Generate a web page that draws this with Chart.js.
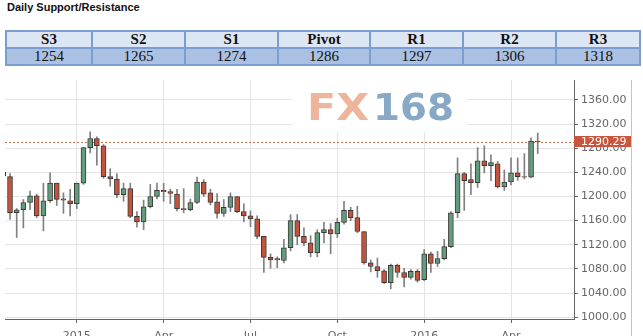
<!DOCTYPE html>
<html lang="en">
<head>
<meta charset="UTF-8">
<title>Daily Support/Resistance</title>
<script src="https://cdn.jsdelivr.net/npm/chart.js@4.4.0/dist/chart.umd.min.js"></script>
<style>
  html, body { margin: 0; padding: 0; background: #fff; }
  body { width: 643px; height: 336px; overflow: hidden; position: relative; }
  #title { position: absolute; left: 7px; top: 1px; font: bold 11px "Liberation Sans", Arial, sans-serif; color: #111; }
  table { position: absolute; left: 5px; top: 30px; width: 634px; border-collapse: collapse; table-layout: fixed; }
  th, td { border: 2px solid #7b9dd0; padding: 0; text-align: center; font-family: "Liberation Serif", "Times New Roman", serif; font-size: 15px; color: #111; }
  th { background: #dce6f4; height: 15px; line-height: 15px; font-weight: bold; }
  td { background: #aac1e3; height: 15px; line-height: 15px; }
  #wrap { position: absolute; left: 0; top: 70px; width: 643px; height: 274px; }
</style>
</head>
<body>
<div id="title">Daily Support/Resistance</div>
<table>
  <colgroup><col style="width:86px"><col style="width:93px"><col style="width:93px"><col style="width:92px"><col style="width:93px"><col style="width:93px"><col style="width:84px"></colgroup>
  <tr id="levelNames"></tr>
  <tr id="levelValues"></tr>
</table>
<div id="wrap"><canvas id="chart" width="643" height="274"></canvas></div>

<script>
// pivot table
const levelNames = ['S3', 'S2', 'S1', 'Pivot', 'R1', 'R2', 'R3'];
const levelValues = [1254, 1265, 1274, 1286, 1297, 1306, 1318];

// weekly candles (first one is cut by the left edge)
const opens  = [1240, 1233, 1173, 1178, 1190, 1201, 1168, 1193, 1222, 1196, 1193, 1188, 1222, 1281, 1296, 1284,
                1233, 1229, 1203, 1213, 1167, 1158, 1183, 1200, 1210, 1208, 1204, 1180, 1178, 1190, 1224, 1206,
                1191, 1172, 1182, 1200, 1175, 1168, 1163, 1134, 1099, 1097, 1094, 1115, 1160, 1134, 1123, 1107,
                1140, 1145, 1138, 1157, 1177, 1165, 1142, 1090, 1084, 1077, 1057, 1086, 1074, 1066, 1076, 1062,
                1105, 1089, 1097, 1117, 1173, 1238, 1228, 1223, 1259, 1251, 1254, 1216, 1224, 1239, 1233, 1232, 1292];
const closes = [1234, 1173, 1178, 1190, 1201, 1168, 1193, 1222, 1195, 1194, 1188, 1222, 1281, 1296, 1284, 1233,
                1229, 1203, 1213, 1167, 1158, 1183, 1200, 1210, 1208, 1205, 1180, 1178, 1190, 1224, 1204, 1190,
                1172, 1182, 1200, 1175, 1168, 1163, 1134, 1099, 1095, 1095, 1115, 1160, 1134, 1123, 1107, 1140,
                1145, 1138, 1157, 1177, 1165, 1142, 1090, 1084, 1077, 1057, 1086, 1074, 1066, 1076, 1061, 1105,
                1089, 1097, 1117, 1173, 1238, 1226, 1223, 1259, 1251, 1256, 1216, 1224, 1239, 1233, 1232, 1292, 1290.29];
const highs  = [1243, 1238, 1180, 1195, 1209, 1204, 1222, 1239, 1222, 1206, 1212, 1222, 1281, 1307, 1299, 1286,
                1246, 1238, 1222, 1222, 1175, 1194, 1220, 1222, 1222, 1212, 1212, 1213, 1196, 1232, 1228, 1212,
                1205, 1195, 1206, 1200, 1188, 1176, 1168, 1134, 1105, 1100, 1129, 1170, 1170, 1148, 1135, 1145,
                1157, 1155, 1164, 1192, 1182, 1184, 1142, 1095, 1098, 1079, 1088, 1088, 1081, 1079, 1079, 1112,
                1108, 1109, 1129, 1175, 1264, 1240, 1254, 1281, 1284, 1269, 1258, 1244, 1264, 1264, 1271, 1297, 1305];
const lows   = [1230, 1162, 1132, 1148, 1178, 1165, 1143, 1190, 1185, 1172, 1168, 1180, 1220, 1272, 1252, 1230,
                1217, 1198, 1192, 1165, 1149, 1145, 1181, 1196, 1192, 1188, 1176, 1173, 1176, 1188, 1200, 1186,
                1164, 1167, 1175, 1173, 1158, 1150, 1130, 1074, 1081, 1082, 1090, 1110, 1120, 1118, 1100, 1100,
                1123, 1105, 1132, 1154, 1160, 1140, 1088, 1075, 1066, 1056, 1047, 1066, 1050, 1063, 1058, 1060,
                1074, 1084, 1095, 1115, 1165, 1177, 1203, 1215, 1239, 1226, 1214, 1210, 1219, 1227, 1229, 1231, 1271];
const lastPrice = 1290.29;

// x axis: quarter marks (week index) and their labels, y axis ticks
const quarterWeeks = [10, 23, 36, 49, 62, 75];
const quarterLabels = ['2015', 'Apr', 'Jul', 'Oct', '2016', 'Apr'];
const priceTicks = [1000, 1040, 1080, 1120, 1160, 1200, 1240, 1280, 1320, 1360];

document.getElementById('levelNames').innerHTML = levelNames.map(n => '<th>' + n + '</th>').join('');
document.getElementById('levelValues').innerHTML = levelValues.map(v => '<td>' + v + '</td>').join('');

const green = '#629c7e';
const red = '#c4533d';

const bodies = opens.map((o, i) => ({ x: i - 1, y: [o, closes[i]] }));
const wicks = highs.map((h, i) => ({ x: i - 1, y: [lows[i], h] }));

const extras = {
    id: 'extras',
    beforeDatasetsDraw(chart) {
        const ctx = chart.ctx;
        const area = chart.chartArea;
        // white patch behind the watermark
        ctx.save();
        ctx.fillStyle = '#fff';
        ctx.fillRect(293, area.top, 174, 52);
        ctx.font = 'bold 37px "DejaVu Sans"';
        ctx.textBaseline = 'alphabetic';
        const drawFit = (txt, x, w, color) => {
            const m = ctx.measureText(txt).width;
            ctx.save();
            ctx.translate(x, 50);
            ctx.scale(w / m, 1);
            ctx.fillStyle = color;
            ctx.fillText(txt, 0, 0);
            ctx.restore();
        };
        drawFit('FX', 307, 62, '#efb49c');
        drawFit('168', 373, 81, '#88a9c6');
        // last price dotted line
        const y = chart.scales.y.getPixelForValue(lastPrice);
        ctx.strokeStyle = '#c8714f';
        ctx.lineWidth = 1;
        ctx.setLineDash([2, 2]);
        ctx.beginPath();
        ctx.moveTo(area.left, Math.round(y) + 0.5);
        ctx.lineTo(area.right, Math.round(y) + 0.5);
        ctx.stroke();
        ctx.restore();
    },
    afterDraw(chart) {
        const ctx = chart.ctx;
        const area = chart.chartArea;
        const y = chart.scales.y.getPixelForValue(lastPrice);
        ctx.save();
        // right border
        ctx.strokeStyle = '#c4c4c4';
        ctx.beginPath();
        ctx.moveTo(631.5, area.top);
        ctx.lineTo(631.5, chart.height);
        ctx.stroke();
        // price tag
        ctx.fillStyle = '#c9553f';
        ctx.fillRect(area.right, Math.round(y) - 6, 57, 11);
        ctx.fillStyle = '#fff';
        ctx.font = '11px "DejaVu Sans"';
        ctx.textBaseline = 'middle';
        ctx.fillText(lastPrice.toFixed(2), area.right + 7, Math.round(y));
        ctx.restore();
    }
};

new Chart(document.getElementById('chart').getContext('2d'), {
    type: 'bar',
    data: {
        datasets: [{
            data: bodies,
            backgroundColor: bodies.map(b => b.y[1] >= b.y[0] ? green : red),
            borderColor: '#3d3a36',
            borderWidth: 1,
            borderSkipped: false,
            barThickness: 5,
            grouped: false,
            order: 0
        }, {
            data: wicks,
            backgroundColor: '#808080',
            borderWidth: 0,
            barThickness: 1,
            grouped: false,
            order: 1
        }]
    },
    options: {
        responsive: false,
        animation: false,
        devicePixelRatio: 1,
        layout: { padding: { left: 5, right: 11, top: 10, bottom: 0 } },
        plugins: { legend: { display: false }, tooltip: { enabled: false } },
        scales: {
            x: {
                type: 'linear',
                min: -0.75,
                max: 84.43,
                offset: false,
                afterBuildTicks: s => { s.ticks = quarterWeeks.map(v => ({ value: v })); },
                afterFit: s => { s.height = 25; },
                grid: { color: '#e4e4e4', tickColor: '#666', tickLength: 4, offset: false },
                border: { color: '#666' },
                ticks: {
                    autoSkip: false,
                    maxRotation: 0,
                    padding: 7,
                    color: '#666',
                    font: { family: 'DejaVu Sans', size: 11 },
                    callback: v => quarterLabels[quarterWeeks.indexOf(v)]
                }
            },
            y: {
                position: 'right',
                min: 997,
                max: 1393,
                afterBuildTicks: s => { s.ticks = priceTicks.map(v => ({ value: v })); },
                afterFit: s => { s.width = 58; },
                grid: { color: '#e4e4e4', tickColor: '#666', tickLength: 4 },
                border: { color: '#666' },
                ticks: {
                    padding: 3,
                    color: '#666',
                    font: { family: 'DejaVu Sans', size: 11 },
                    callback: v => v.toFixed(2)
                }
            }
        }
    },
    plugins: [extras]
});
</script>
</body>
</html>
